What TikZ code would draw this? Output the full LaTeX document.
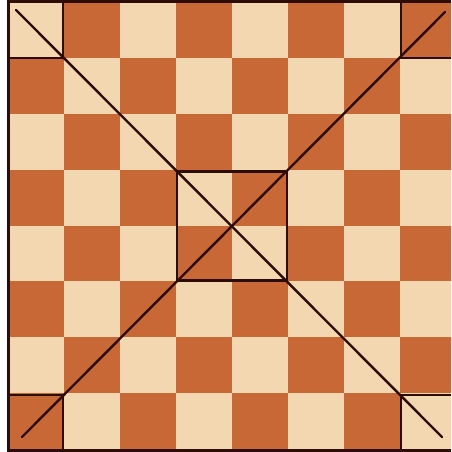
\documentclass[tikz,border=0pt]{standalone}
\definecolor{lightsq}{RGB}{243,215,176}
\definecolor{darksq}{RGB}{200,104,54}
\definecolor{ink}{RGB}{45,12,6}
\begin{document}
\begin{tikzpicture}[x=1pt,y=-1pt,
  mark line/.style={draw=ink,line width=2.2pt},
  diag line/.style={draw=ink,line width=2.4pt,line cap=round}]
\useasboundingbox (0,0) rectangle (451,452);
\fill[white] (0,0) rectangle (451,452);
\begin{scope}
  \clip (0,0) rectangle (451,452);
  \foreach \r in {0,...,7} {
    \foreach \c in {0,...,7} {
      \pgfmathtruncatemacro\p{mod(\r+\c,2)}
      \ifnum\p=0 \def\sqcol{lightsq}\else\def\sqcol{darksq}\fi
      \fill[\sqcol] ({8+56*\c},{2+55.875*\r}) rectangle ({8+56*(\c+1)},{2+55.875*(\r+1)});
    }
  }
  % outer border
  \draw[ink,line width=2.2pt] (8.5,0) -- (8.5,452);
  \draw[ink,line width=3pt] (8,1.2) -- (451,1.2);
  \draw[ink,line width=3pt] (8,450.5) -- (451,450.5);
  % corner squares
  \draw[mark line] (8,57.9) -- (63,57.9) -- (63,0);
  \draw[mark line] (401,0) -- (401,57.9) -- (451,57.9);
  \draw[mark line] (8,395) -- (63,395) -- (63,452);
  \draw[mark line] (451,395) -- (401,395) -- (401,452);
  % centre square
  \draw[mark line] (177,171.5) rectangle (287,280.5);
  % diagonals
  \coordinate (tl) at (16,10);
  \coordinate (br) at (442,437);
  \coordinate (bl) at (22,437);
  \coordinate (tr) at (445,12);
  \draw[diag line] (tl) -- (br);
  \draw[diag line] (bl) -- (tr);
\end{scope}
\end{tikzpicture}
\end{document}
